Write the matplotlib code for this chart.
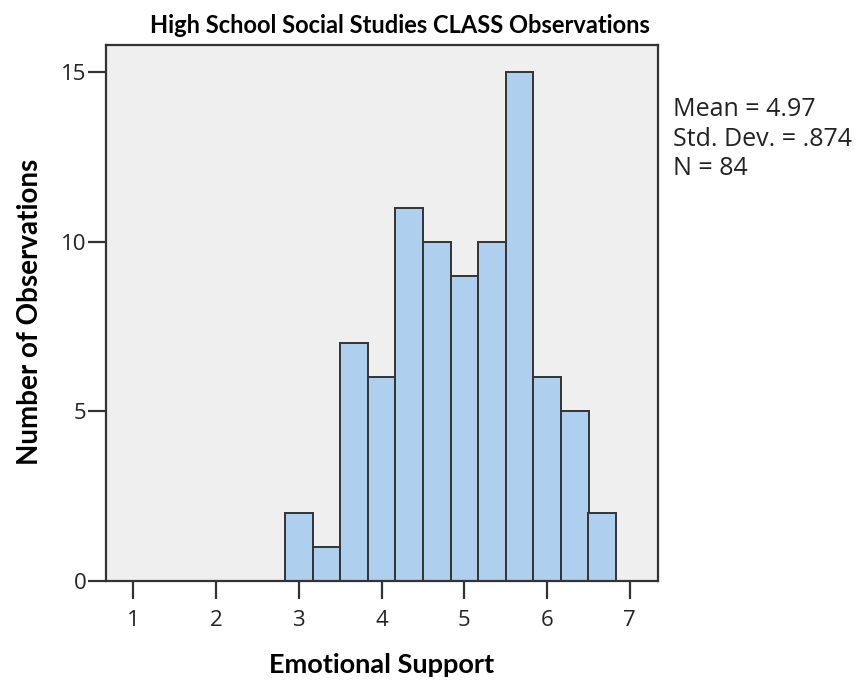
import matplotlib
matplotlib.use("Agg")
import matplotlib.pyplot as plt

# histogram of Emotional Support scores (bins are 1/3 wide)
bin_left = [2.833, 3.167, 3.500, 3.833, 4.167, 4.500, 4.833, 5.167, 5.500, 5.833, 6.167, 6.500]
bin_width = 0.3333
counts = [2, 1, 7, 6, 11, 10, 9, 10, 15, 6, 5, 2]

x_ticks = [1, 2, 3, 4, 5, 6, 7]
y_ticks = [0, 5, 10, 15]

stats_lines = ["Mean = 4.97", "Std. Dev. = .874", "N = 84"]

title = "High School Social Studies CLASS Observations"
x_label = "Emotional Support"
y_label = "Number of Observations"

edge = "#333333"

fig = plt.figure(figsize=(8.65, 6.85), dpi=100)
ax = fig.add_axes([0.1225, 0.1518, 0.6382, 0.7825])
ax.set_facecolor("#efefef")

ax.bar(bin_left, counts, width=bin_width, align="edge",
       color="#aecfee", edgecolor=edge, linewidth=1.4)

ax.set_xlim(0.67, 7.34)
ax.set_ylim(0, 15.79)
ax.set_xticks(x_ticks)
ax.set_yticks(y_ticks)

for s in ax.spines.values():
    s.set_color(edge)
    s.set_linewidth(1.6)

tick_font = {"family": "Open Sans", "size": 16}
ax.set_xticklabels([str(t) for t in x_ticks], fontdict=tick_font, color="#222222")
ax.set_yticklabels([str(t) for t in y_ticks], fontdict=tick_font, color="#222222")
ax.tick_params(axis="x", length=13, width=1.6, color=edge, pad=8)
ax.tick_params(axis="y", length=13, width=1.6, color=edge, pad=1)

fig.text(0.462, 0.963, title, ha="center", va="center",
         fontsize=17, fontweight="bold", family="Lato")
fig.text(0.441, 0.029, x_label, ha="center", va="center",
         fontsize=19.5, fontweight="bold", family="Lato")
fig.text(0.035, 0.545, y_label, ha="center", va="center", rotation=90,
         fontsize=20, fontweight="bold", family="Lato")

fig.text(0.778, 0.797, "\n".join(stats_lines), ha="left", va="center",
         fontsize=18, family="Open Sans", linespacing=1.22, color="#222222")

fig.savefig("out.png", dpi=100, facecolor="white")
